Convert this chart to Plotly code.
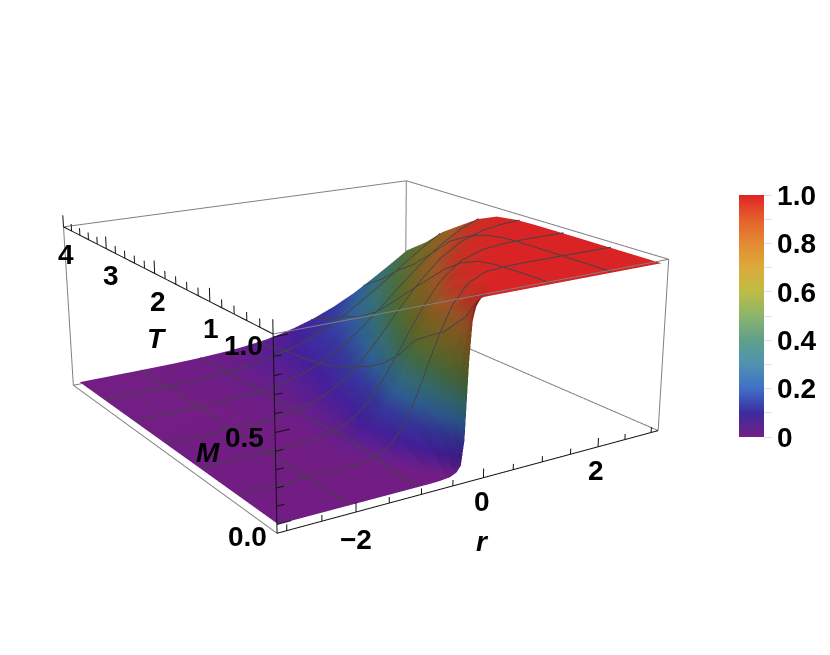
import plotly.graph_objects as go
import numpy as np

# ---------- data ----------
r_vals = [-3.12,-2.5,-2,-1.6,-1.3,-1.05,-.85,-.7,-.55,-.45,-.38,-.33,-.28,-.22,-.12,0,.2,.45,.75,1.1,1.5,1.9,2.3,2.65,3.0]
T_vals = [0,0.05,0.15,0.3,0.6,0.8,1,1.25,1.5,1.75,2,2.3,2.6,2.9,3.2,3.5,3.85]
M_T000 = [0,0,0,0,0,0,0,.002,.008,.025,.06,.2,.65,.97,1,1,1,1,1,1,1,1,1,1,1]
M_T005 = [0,0,0,0,0,0,0,0,.002,.038,.159,.33,.544,.782,.971,.999,1,1,1,1,1,1,1,1,1]
M_T015 = [0,0,0,0,0,0,0,.006,.05,.145,.258,.363,.476,.614,.81,.944,.997,1,1,1,1,1,1,1,1]
M_T030 = [0,0,0,0,0,.001,.01,.042,.125,.221,.309,.378,.452,.548,.691,.831,.958,.996,1,1,1,1,1,1,1]
M_T060 = [0,0,0,0,.003,.017,.052,.106,.19,.264,.326,.371,.421,.48,.579,.691,.841,.948,.991,.999,1,1,1,1,1]
M_T080 = [0,0,0,.001,.008,.029,.071,.125,.203,.268,.319,.359,.397,.448,.536,.633,.779,.903,.974,.996,1,1,1,1,1]
M_T100 = [0,0,0,.003,.015,.042,.087,.138,.206,.261,.305,.337,.371,.413,.484,.571,.709,.841,.939,.985,.998,1,1,1,1]
M_T125 = [0,0,0,.003,.012,.032,.063,.099,.147,.187,.221,.245,.271,.302,.363,.436,.564,.712,.853,.946,.988,.998,1,1,1]
M_T150 = [0,0,.001,.003,.011,.027,.05,.076,.113,.142,.166,.184,.203,.23,.274,.334,.444,.583,.739,.873,.956,.989,.998,1,1]
M_T175 = [0,0,.001,.004,.012,.026,.046,.067,.095,.117,.136,.149,.164,.184,.218,.264,.352,.476,.622,.773,.894,.96,.988,.996,.999]
M_T200 = [0,0,.001,.005,.013,.026,.043,.059,.082,.1,.115,.127,.138,.154,.181,.218,.288,.39,.524,.67,.813,.908,.962,.985,.995]
M_T230 = [0,0,.001,.005,.011,.02,.032,.045,.061,.074,.084,.092,.1,.111,.131,.159,.212,.291,.401,.54,.691,.816,.903,.951,.977]
M_T260 = [0,.001,.002,.006,.012,.02,.03,.04,.053,.062,.069,.075,.082,.09,.104,.125,.164,.221,.305,.417,.552,.681,.791,.867,.921]
M_T290 = [0,.001,.003,.007,.012,.019,.027,.036,.046,.053,.059,.063,.068,.075,.085,.1,.129,.174,.239,.326,.44,.56,.674,.761,.836]
M_T320 = [0,.001,.004,.008,.014,.021,.029,.036,.045,.052,.056,.061,.064,.069,.079,.092,.115,.151,.203,.274,.371,.472,.579,.666,.749]
M_T350 = [0,.001,.003,.006,.01,.014,.02,.024,.03,.035,.038,.041,.044,.047,.054,.063,.079,.106,.145,.2,.278,.367,.464,.552,.633]
M_T385 = [0,.001,.0015,.003,.005,.008,.012,.015,.018,.021,.023,.025,.027,.029,.034,.039,.05,.069,.097,.138,.198,.271,.359,.44,.524]
M_table = [M_T000,M_T005,M_T015,M_T030,M_T060,M_T080,M_T100,M_T125,M_T150,M_T175,M_T200,M_T230,M_T260,M_T290,M_T320,M_T350,M_T385]

r_mesh = [-2.094,-1.047,0,1.047,2.094]
T_mesh = [.65,1.3,1.95,2.6,3.25]
r_range = [-3.1416,3.1416]
T_range = [0,4]
M_box = [-0.05,1.015]
M_range = [-0.05,1.095]
r_ticks = [-3,-2.5,-2,-1.5,-1,-0.5,0,0.5,1,1.5,2,2.5,3]
r_major = [-2,0,2]
T_ticks = [0,.2,.4,.6,.8,1,1.2,1.4,1.6,1.8,2,2.2,2.4,2.6,2.8,3,3.2,3.4,3.6,3.8,4]
T_major = [0,1,2,3,4]
M_ticks = [0,.1,.2,.3,.4,.5,.6,.7,.8,.9,1]
M_major = [0,.5,1]
cbar_vals = [0,.1,.2,.3,.4,.5,.6,.7,.8,.9,1]
cbar_text = ['0','','0.2','','0.4','','0.6','','0.8','','1.0']
rainbow = ['#741e86','#3c2c9e','#3f6fc8','#4f92b0','#5fa08a','#8bb46c','#bcbd45','#dcaa3a','#e38a32','#e4602c','#e02426']
surface_colors = ['#741e86','#48209f','#3a3ba8','#3468a4','#3c7a80','#4f7a4a','#70762f','#8f6e27','#b0622a','#cf3c27','#e12426']

# ---------- figure geometry ----------
FIG_W, FIG_H, TOP = 830, 1226, 291
SCENE_W = 726
FONT = dict(family='Liberation Sans', size=28, color='black')

# box edges sit a hair inside the axis ranges so the clip planes never eat them
rl, rh = r_range[0]+.005, r_range[1]-.005
tl, th = T_range[0]+.003, T_range[1]-.003
ml, mh = M_box[0]+.001, M_box[1]
ex, ey, ez = [], [], []
for a, b in [((rh,tl,ml),(rh,th,ml)), ((rh,th,ml),(rl,th,ml)), ((rl,th,ml),(rl,th,mh)),
             ((rh,th,ml),(rh,th,mh)), ((rh,tl,ml),(rh,tl,mh)), ((rh,tl,mh),(rl,tl,mh)),
             ((rh,tl,mh),(rh,th,mh)), ((rh,th,mh),(rl,th,mh)), ((rl,tl,ml),(rl,th,ml))]:
    ex += [a[0],b[0],None]; ey += [a[1],b[1],None]; ez += [a[2],b[2],None]

kx, ky, kz = [rl,rh,None,rl,rl,None,rl,rl,None], [tl,tl,None,tl,tl,None,tl,th,None], [ml,ml,None,ml,mh,None,mh,mh,None]
for v in r_ticks:
    h = .055 if v in r_major else .035
    kx += [v,v,None]; ky += [tl,tl,None]; kz += [ml,ml+h,None]
for v in T_ticks:
    h = .075 if v in T_major else .045
    w = min(max(v, tl), th)
    kx += [rl,rl,None]; ky += [w,w,None]; kz += [mh,mh+h,None]
for v in M_ticks:
    h = .2 if v in M_major else .11
    kx += [rl,rl+h,None]; ky += [tl,tl,None]; kz += [v,v,None]

# mesh lines follow the surface table, lifted a hair towards the camera
M_arr = np.array(M_table)
gx, gy, gz = [], [], []
for tv in T_mesh:
    col = [float(np.interp(tv, T_vals, M_arr[:, j])) for j in range(len(r_vals))]
    gx += [v-.01 for v in r_vals] + [None]; gy += [tv-.015]*len(r_vals) + [None]; gz += [m+.006 for m in col] + [None]
for rv in r_mesh:
    col = [float(np.interp(rv, r_vals, M_arr[i])) for i in range(len(T_vals))]
    gx += [rv-.01]*len(T_vals) + [None]; gy += [max(t-.015, tl) for t in T_vals] + [None]; gz += [m+.006 for m in col] + [None]

def lab(x, y, z, text, dx, dy):
    return dict(x=x, y=y, z=z, text='<b>%s</b>' % text, showarrow=False, font=FONT,
                xanchor='center', yanchor='middle', xshift=dx, yshift=-dy)

ra = rl + 0.02
annotations = [
    lab(ra,3.98,mh,'4',1,27), lab(ra,3,mh,'3',3,27), lab(ra,2,mh,'2',2,28), lab(ra,1,mh,'1',0,27),
    lab(ra,2,mh,'<i>T</i>',1,65),
    lab(ra,.01,1,'1.0',-31,9), lab(ra,.01,.5,'0.5',-32,6), lab(ra,.01,0,'0.0',-30,13),
    lab(ra,.01,.5,'<i>M</i>',-68,21),
    lab(-2,.01,ml+.001,'\u22122',0,28), lab(0,.01,ml+.001,'0',-1,24), lab(2,.01,ml+.001,'2',-1,24),
    lab(0,.01,ml+.001,'<i>r</i>',0,64),
]

fig = go.Figure()
fig.add_trace(go.Surface(
    x=r_vals, y=T_vals, z=M_table, cmin=0, cmax=1, showscale=False,
    colorscale=[[i/10, c] for i, c in enumerate(surface_colors)],
    hoverinfo='skip',
    lighting=dict(ambient=.65, diffuse=.35, specular=0, roughness=1, fresnel=0),
    lightposition=dict(x=0, y=0, z=100000),
    contours=dict(x=dict(highlight=False), y=dict(highlight=False), z=dict(highlight=False)),
))
fig.add_trace(go.Scatter3d(x=gx, y=gy, z=gz, mode='lines', line=dict(color='#444444', width=2), hoverinfo='skip', showlegend=False))
fig.add_trace(go.Scatter3d(x=ex, y=ey, z=ez, mode='lines', line=dict(color='#808080', width=2), hoverinfo='skip', showlegend=False))
fig.add_trace(go.Scatter3d(x=kx, y=ky, z=kz, mode='lines', line=dict(color='#111111', width=2), hoverinfo='skip', showlegend=False))
fig.add_trace(go.Scatter3d(
    x=[None, None], y=[None, None], z=[None, None], mode='markers', hoverinfo='skip', showlegend=False,
    marker=dict(color=[0, 1], cmin=0, cmax=1, size=1, colorscale=[[i/10, c] for i, c in enumerate(rainbow)], showscale=True,
        colorbar=dict(x=739/FIG_W, xanchor='left', xpad=0, ypad=0, y=1-(437+TOP)/FIG_H, yanchor='bottom',
                  len=242, lenmode='pixels', thickness=25, outlinewidth=0,
                  tickmode='array', tickvals=cbar_vals, ticktext=cbar_text,
                  ticks='outside', ticklen=8, tickcolor='#dddddd', tickwidth=1,
                  tickfont=dict(family='Liberation Sans', size=28, color='black', weight='bold')))))

hidden = dict(visible=False, showgrid=False, zeroline=False, showline=False, showticklabels=False,
              showbackground=False, showspikes=False, autorange=False)
fig.update_layout(
    width=FIG_W, height=FIG_H, autosize=False, showlegend=False,
    paper_bgcolor='white', plot_bgcolor='white',
    margin=dict(l=0, r=0, t=0, b=0, pad=0, autoexpand=False),
    scene=dict(
        domain=dict(x=[0, SCENE_W/FIG_W], y=[0, 1]),
        xaxis=dict(range=r_range, **hidden), yaxis=dict(range=T_range, **hidden), zaxis=dict(range=M_range, **hidden),
        aspectmode='manual', aspectratio=dict(x=1.3, y=1.3261, z=.564),
        camera=dict(eye=dict(x=-2.308, y=-3.6285, z=1.3146), center=dict(x=-.1712, y=-.3209, z=.1048),
                    up=dict(x=-.1485, y=-.2317, z=1)),
        annotations=annotations,
    ),
)
fig.write_html('out.html', post_script=(
    "document.documentElement.style.overflow='hidden';document.body.style.overflow='hidden';"
    "document.body.style.margin='0';"
    "document.querySelector('.plotly-graph-div').style.marginTop='-%dpx';" % TOP))
